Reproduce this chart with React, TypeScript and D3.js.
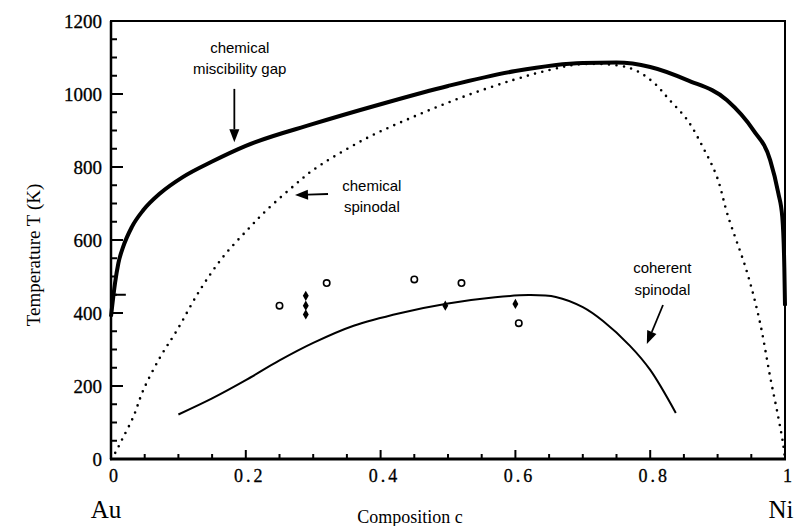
import React from 'react';
import * as d3 from 'd3';

// chemical miscibility gap (thick solid)
const gapC = [0, 0.006, 0.011, 0.018, 0.031, 0.048, 0.073, 0.107, 0.15, 0.2, 0.3, 0.4, 0.5, 0.6, 0.7, 0.75, 0.8, 0.855, 0.914, 0.953, 0.978, 0.99, 0.996, 0.999, 1];
const gapT = [390, 482, 537, 581, 636, 682, 728, 773, 815, 858, 918, 972, 1022, 1063, 1085, 1086, 1074, 1038, 983, 901, 819, 729, 663, 525, 420];

// chemical spinodal (dotted)
const spinC = [0, 0.006, 0.016, 0.033, 0.048, 0.073, 0.098, 0.132, 0.166, 0.202, 0.231, 0.276, 0.3, 0.374, 0.448, 0.522, 0.596, 0.651, 0.7, 0.77, 0.804, 0.829, 0.855, 0.878, 0.899, 0.915, 0.944, 0.963, 0.978, 0.99, 0.997, 1];
const spinT = [0, 16, 52, 115, 189, 279, 353, 463, 553, 627, 682, 756, 792, 874, 937, 992, 1038, 1066, 1082, 1071, 1033, 983, 929, 855, 773, 668, 510, 373, 225, 115, 44, 0];

// coherent spinodal (thin solid)
const cohC = [0.1, 0.15, 0.2, 0.25, 0.3, 0.36, 0.43, 0.5, 0.57, 0.62, 0.66, 0.7, 0.73, 0.77, 0.8, 0.838];
const cohT = [122, 166, 216, 270, 318, 365, 400, 426, 443, 449, 444, 416, 378, 310, 244, 126];

// experimental points
const openC = [0.25, 0.32, 0.45, 0.52, 0.605];
const openT = [420, 482, 492, 482, 372];
const filledC = [0.289, 0.289, 0.289, 0.496, 0.6];
const filledT = [447, 420, 396, 420, 425];

const xTicks = [0, 0.2, 0.4, 0.6, 0.8, 1];
const xTickLabels = ['0', '0.2', '0.4', '0.6', '0.8', '1'];
const yTicks = [0, 200, 400, 600, 800, 1000, 1200];

const serif = '"Liberation Serif", "Times New Roman", serif';
const sans = '"Liberation Sans", Arial, sans-serif';

const W = 805, H = 526;
const left = 111, right = 785, top = 21, bottom = 459;

export default function App() {
  const x = d3.scaleLinear().domain([0, 1]).range([left, right]);
  const y = d3.scaleLinear().domain([0, 1200]).range([bottom, top]);

  const line = (cs: number[], ts: number[], curve: any) =>
    d3.line<number>().x((d, i) => x(cs[i])).y((d, i) => y(ts[i])).curve(curve)(cs) || '';

  const minorX = d3.range(0, 1.0001, 0.05);
  const minorY = d3.range(0, 1200.1, 50);

  const arrow = (c0: number, t0: number, c1: number, t1: number, key: string) => {
    const x0 = x(c0), y0 = y(t0), x1 = x(c1), y1 = y(t1);
    const a = Math.atan2(y1 - y0, x1 - x0);
    const len = 13, half = 5;
    const bx = x1 - len * Math.cos(a), by = y1 - len * Math.sin(a);
    const p = [
      [x1, y1],
      [bx + half * Math.sin(a), by - half * Math.cos(a)],
      [bx - half * Math.sin(a), by + half * Math.cos(a)],
    ];
    return (
      <g key={key}>
        <line x1={x0} y1={y0} x2={bx} y2={by} stroke="#000" strokeWidth={1.8} />
        <polygon points={p.map(q => q.join(',')).join(' ')} fill="#000" />
      </g>
    );
  };

  const labels = [
    { c: 0.191, t: 1112, text: 'chemical' },
    { c: 0.191, t: 1055, text: 'miscibility gap' },
    { c: 0.387, t: 734, text: 'chemical' },
    { c: 0.387, t: 677, text: 'spinodal' },
    { c: 0.818, t: 510, text: 'coherent' },
    { c: 0.818, t: 449, text: 'spinodal' },
  ];

  return (
    <svg width={W} height={H} style={{ position: 'absolute', left: 0, top: 0, background: '#fff' }}>
      <rect x={0} y={0} width={W} height={H} fill="#fff" />

      {/* curves */}
      <path d={line(gapC, gapT, d3.curveMonotoneX)} fill="none" stroke="#000" strokeWidth={4} strokeLinejoin="round" />
      <path d={line(spinC, spinT, d3.curveCatmullRom.alpha(0.5))} fill="none" stroke="#000" strokeWidth={2.6}
        strokeDasharray="0 7.5" strokeLinecap="round" />
      <path d={line(cohC, cohT, d3.curveCatmullRom.alpha(0.5))} fill="none" stroke="#000" strokeWidth={2} />
      <line x1={x(0)} y1={y(450)} x2={x(0.022)} y2={y(450)} stroke="#000" strokeWidth={2} />

      {/* points */}
      {openC.map((c, i) => (
        <circle key={'o' + i} cx={x(c)} cy={y(openT[i])} r={3.2} fill="#fff" stroke="#000" strokeWidth={1.6} />
      ))}
      {filledC.map((c, i) => (
        <path key={'f' + i} d={d3.symbol(d3.symbolDiamond, 30)() || ''}
          transform={`translate(${x(c)},${y(filledT[i])})`} fill="#000" />
      ))}

      {/* frame */}
      <rect x={left} y={top} width={right - left} height={bottom - top} fill="none" stroke="#000" strokeWidth={2} />
      <line x1={left - 1} y1={bottom} x2={right + 1} y2={bottom} stroke="#000" strokeWidth={3} />
      <line x1={left} y1={top} x2={left} y2={bottom} stroke="#000" strokeWidth={2.5} />

      {/* x ticks */}
      {minorX.map((v, i) => {
        const major = i % 4 === 0;
        return <line key={'xt' + i} x1={x(v)} x2={x(v)} y1={bottom} y2={bottom - (major ? 9 : 5)} stroke="#000" strokeWidth={2} />;
      })}
      {xTicks.map((v, i) => (
        <text key={'xl' + i} x={x(v) + 4} y={bottom + 23} textAnchor="middle" fontFamily={serif}
          fontSize={18} letterSpacing={3} stroke="#000" strokeWidth={0.3}>{xTickLabels[i]}</text>
      ))}

      {/* y ticks */}
      {minorY.map((v, i) => {
        const major = i % 4 === 0;
        return <line key={'yt' + i} x1={left} x2={left + (major ? 12 : 6)} y1={y(v)} y2={y(v)} stroke="#000" strokeWidth={2} />;
      })}
      {yTicks.map(v => (
        <text key={'yl' + v} x={left - 9} y={y(v)} dy="0.35em" textAnchor="end" fontFamily={serif} fontSize={19}
          stroke="#000" strokeWidth={0.3}>{v}</text>
      ))}

      {/* axis titles */}
      <text transform={`translate(40,${(top + bottom) / 2 + 15}) rotate(-90)`} textAnchor="middle" fontFamily={serif} fontSize={19}>
        Temperature T (K)
      </text>
      <text x={410} y={523} textAnchor="middle" fontFamily={serif} fontSize={18}>Composition c</text>
      <text x={106} y={518} textAnchor="middle" fontFamily={serif} fontSize={25}>Au</text>
      <text x={781} y={518} textAnchor="middle" fontFamily={serif} fontSize={25}>Ni</text>

      {/* annotations */}
      {labels.map((l, i) => (
        <text key={'a' + i} x={x(l.c)} y={y(l.t)} textAnchor="middle" fontFamily={sans} fontSize={15}>{l.text}</text>
      ))}
      {arrow(0.183, 1014, 0.183, 868, 'a1')}
      {arrow(0.322, 726, 0.273, 723, 'a2')}
      {arrow(0.819, 422, 0.795, 315, 'a3')}
    </svg>
  );
}
